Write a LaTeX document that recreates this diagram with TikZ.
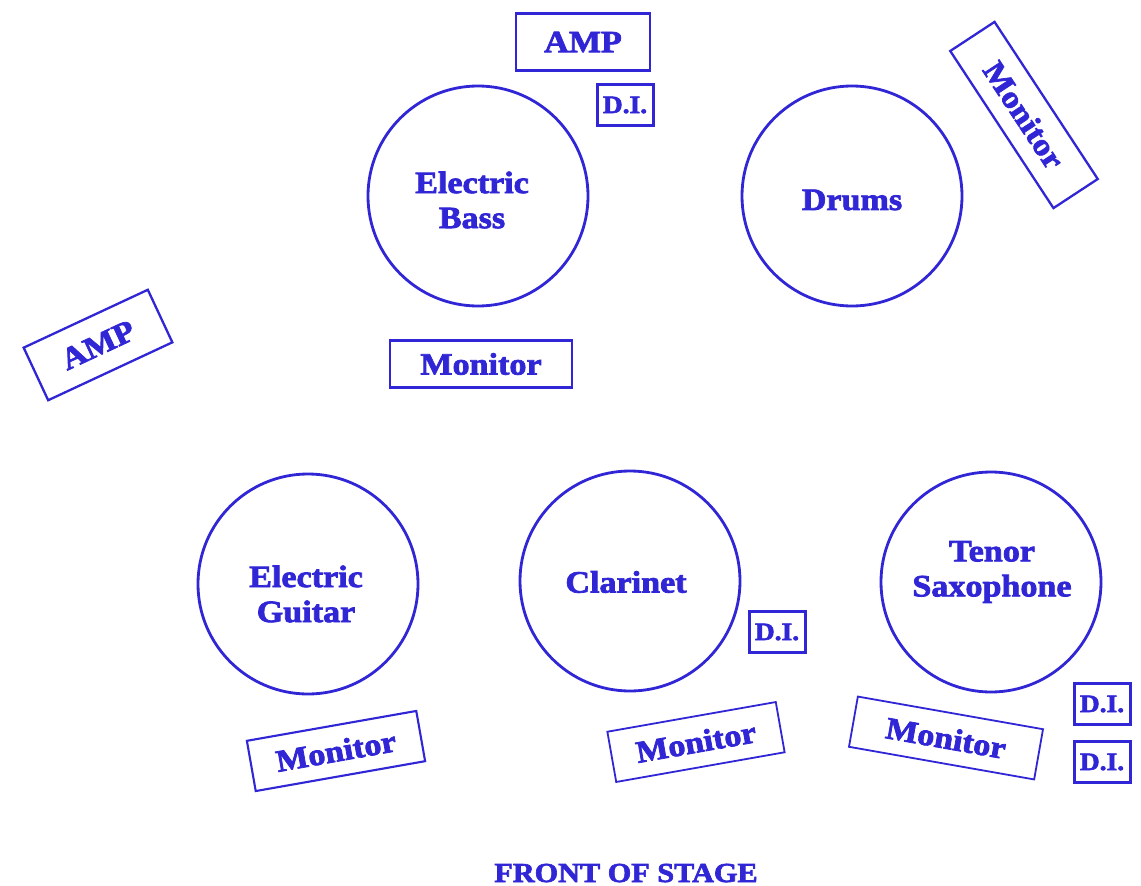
\documentclass[tikz,border=0pt]{standalone}
\usepackage{fontspec}
\newfontfamily\stagefont{Liberation Serif}[UprightFont=* Bold, FakeBold=2.4, FakeStretch=1.1]
\definecolor{ink}{RGB}{48,38,214}
\begin{document}
\begin{tikzpicture}[x=1pt,y=-1pt,
  player/.style={circle,draw=ink,line width=2.8pt,minimum size=220pt,inner sep=0pt},
  playertext/.style={text=ink,font=\fontsize{31}{35}\stagefont,align=center,inner sep=0pt},
  gear/.style={rectangle,draw=ink,line width=2.3pt,inner sep=0pt,text=ink,
    font=\fontsize{31}{35}\stagefont},
  dibox/.style={rectangle,draw=ink,line width=3pt,inner sep=0pt,text=ink,
    minimum width=56pt,minimum height=41pt,font=\fontsize{25}{28}\stagefont},
  frontlabel/.style={text=ink,font=\fontsize{27.5}{30}\stagefont,inner sep=0pt}]
\useasboundingbox[fill=white] (0,0) rectangle (1141,886);
% performers
\node[player] (bass) at (478,196) {};
\node[playertext] (basst) at (472,200) {Electric\\Bass};
\node[player] (drums) at (852,196) {};
\node[playertext] (drumst) at (852,200) {Drums};
\node[player] (guitar) at (308,584) {};
\node[playertext] (guitart) at (306,594) {Electric\\Guitar};
\node[player] (clar) at (630,581) {};
\node[playertext] (clart) at (626,582) {Clarinet};
\node[player] (sax) at (991,582) {};
\node[playertext] (saxt) at (992,572) {Tenor\\Saxophone};
% equipment
\node[gear,minimum width=134pt,minimum height=57pt] (ampt) at (583,42) {AMP};
\node[dibox] (dib) at (625,105) {D.I.};
\node[gear,minimum width=182pt,minimum height=47pt] (monb) at (481,364) {Monitor};
\node[gear,minimum width=188pt,minimum height=53pt,rotate=-56.7] (mond) at (1024,115) {Monitor};
\node[gear,minimum width=137pt,minimum height=58pt,rotate=25] (ampl) at (98,345) {AMP};
\node[gear,line width=2.1pt,minimum width=172pt,minimum height=51pt,rotate=10] (mong) at (336,751) {Monitor};
\node[gear,line width=1.8pt,minimum width=171pt,minimum height=51pt,rotate=10] (monc) at (696,742) {Monitor};
\node[dibox] (dic) at (777,632) {D.I.};
\node[gear,line width=1.8pt,minimum width=188pt,minimum height=51pt,rotate=-10] (mons) at (946,738) {Monitor};
\node[dibox] (dis1) at (1102,704) {D.I.};
\node[dibox] (dis2) at (1102,762) {D.I.};
% front
\node[frontlabel,anchor=base] (front) at (626,882) {FRONT OF STAGE};
\end{tikzpicture}
\end{document}
